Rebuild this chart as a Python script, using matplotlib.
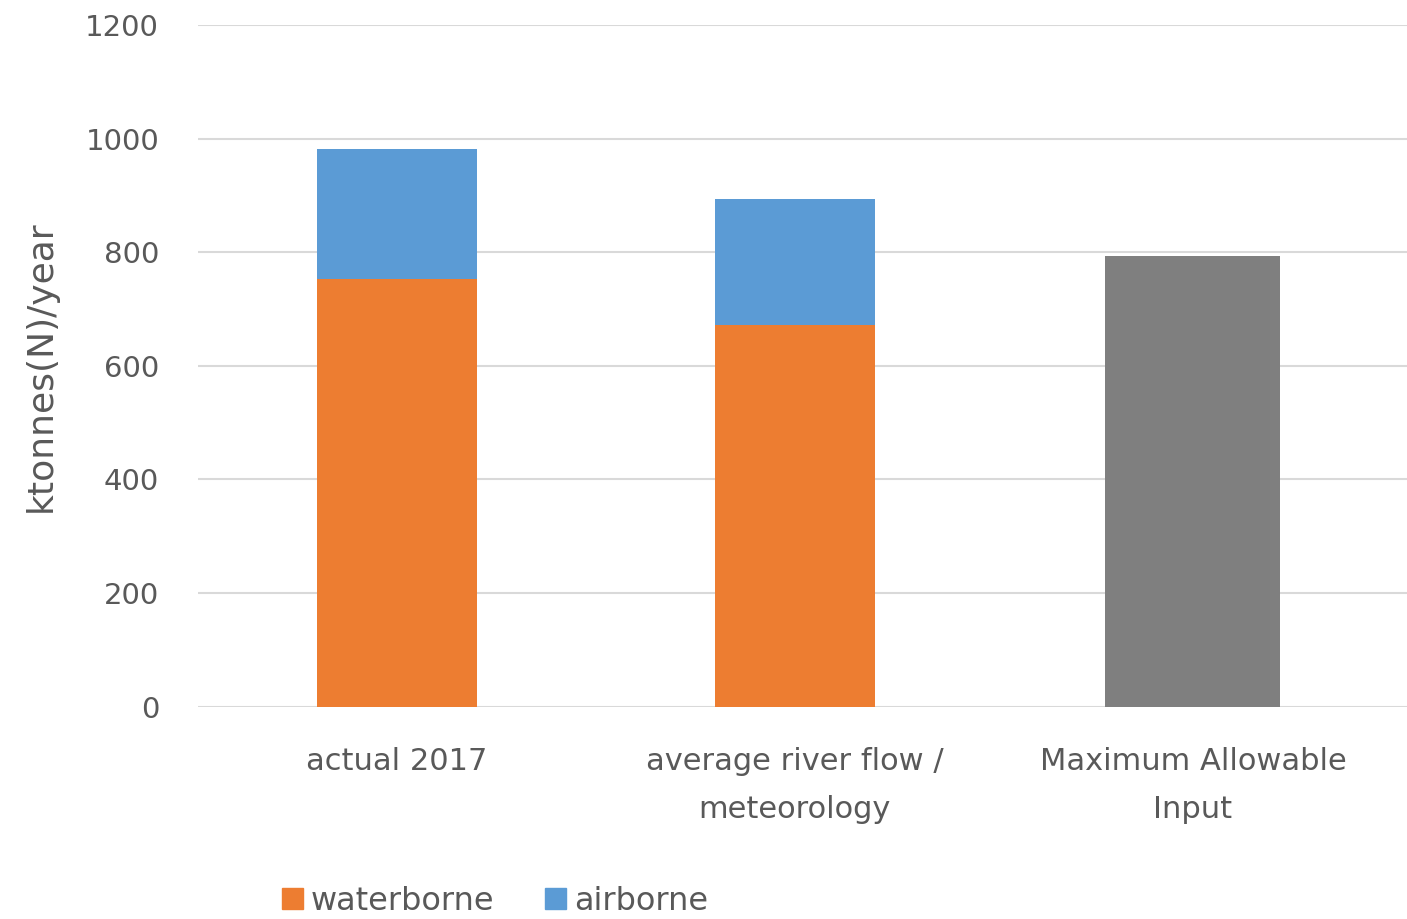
import numpy as np
import matplotlib
matplotlib.use('Agg')
import matplotlib.pyplot as plt
import matplotlib.patches as mpatches

# Nitrogen input per scenario, ktonnes(N)/year
categories = ['actual 2017', 'average river flow /\nmeteorology', 'Maximum Allowable\nInput']
waterborne = [752, 672, 0]
airborne = [230, 221, 0]
max_allowable = [0, 0, 793]

plt.rcParams['font.family'] = ['DejaVu Sans']
text_color = '#595959'
grid_color = '#D9D9D9'
c_water = '#ED7D31'
c_air = '#5B9BD5'
c_max = '#7F7F7F'

fig = plt.figure(figsize=(14.07, 9.19), dpi=100)
ax = fig.add_axes([0.1407, 0.2312, 0.8593, 0.7416])

x = np.arange(len(categories))
width = 0.40

ax.bar(x[:2], waterborne[:2], width, color=c_water, zorder=3)
ax.bar(x[:2], airborne[:2], width, bottom=waterborne[:2], color=c_air, zorder=3)
ax.bar(x[2], max_allowable[2], 0.44, color=c_max, zorder=3)

ax.set_ylim(0, 1200)
ax.set_xlim(-0.5, 2.538)
ax.set_yticks(np.arange(0, 1201, 200))
ax.yaxis.grid(True, color=grid_color, linewidth=1.5, zorder=0)
ax.set_axisbelow(True)

for side in ['top', 'right', 'left', 'bottom']:
    ax.spines[side].set_visible(False)
ax.tick_params(axis='both', length=0, labelsize=21, labelcolor=text_color)
ax.tick_params(axis='y', pad=28)
ax.tick_params(axis='x', pad=29)

ax.set_xticks(x)
ax.set_xticklabels(categories, linespacing=1.85, fontsize=22)

ax.set_ylabel('ktonnes(N)/year', fontsize=26, color=text_color, labelpad=20)

handles = [mpatches.Patch(color=c_water, label='waterborne'),
           mpatches.Patch(color=c_air, label='airborne')]
fig.legend(handles=handles, loc='lower left', bbox_to_anchor=(0.18, -0.029),
           ncol=2, frameon=False, fontsize=23, handlelength=0.65, handleheight=0.65,
           handletextpad=0.25, columnspacing=1.6, labelcolor=text_color)

plt.savefig('out.png', dpi=100)
